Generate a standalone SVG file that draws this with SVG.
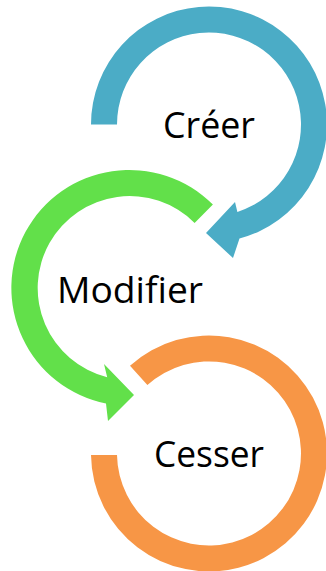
<svg xmlns="http://www.w3.org/2000/svg" width="326" height="571" viewBox="0 0 326 571">
  <style>
    .lbl { font-family: "Open Sans", "Noto Sans", "Liberation Sans", sans-serif; font-size: 37px; fill: #000000; text-anchor: middle; }
    .blue { fill: #4BACC6; }
    .green { fill: #62E04A; }
    .orange { fill: #F79646; }
  </style>
  <rect x="0" y="0" width="326" height="571" fill="#FFFFFF"/>
  <g id="node-creer">
    <path class="blue" d="M 91,124.5 A 118 118 0 1 1 239.5,238.5 L 233,258 L 206,233 L 235,202 L 237.4,212 A 92 92 0 1 0 117,124.5 Z"/>
    <text class="lbl" x="209" y="138" textLength="92" lengthAdjust="spacingAndGlyphs">Créer</text>
  </g>
  <g id="node-modifier">
    <path class="green" d="M 212.9,204.6 A 118 118 0 1 0 106,403.6 L 108,421 L 134,395 L 104,364 L 107.2,377.3 A 92 92 0 1 1 194.6,222.9 Z"/>
    <text class="lbl" x="130" y="303" textLength="146" lengthAdjust="spacingAndGlyphs">Modifier</text>
  </g>
  <g id="node-cesser">
    <path class="orange" d="M 91,455 A 118 118 0 1 0 130,365.8 L 147.4,385.1 A 92 92 0 1 1 117,455 Z"/>
    <text class="lbl" x="209" y="467" textLength="110" lengthAdjust="spacingAndGlyphs">Cesser</text>
  </g>
  <g id="connectors"></g>
</svg>
